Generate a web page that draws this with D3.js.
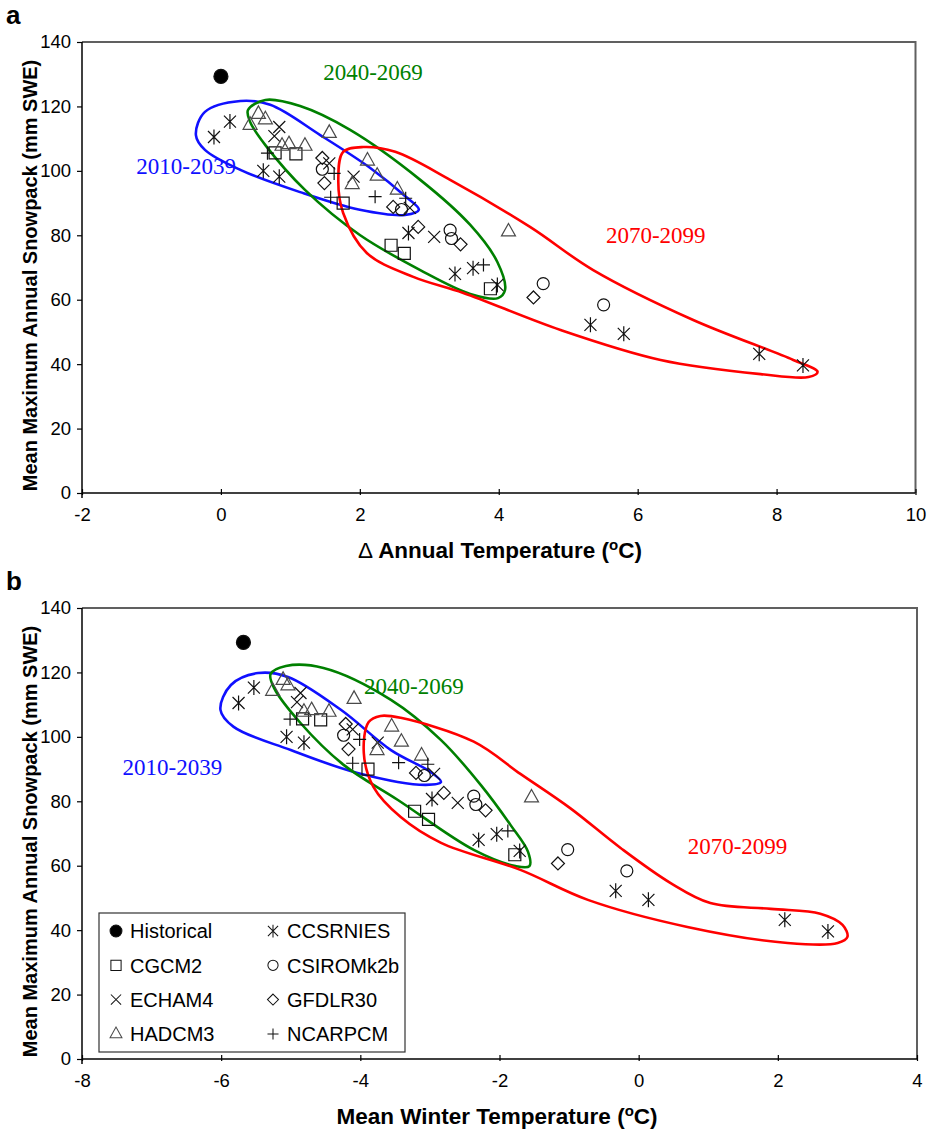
<!DOCTYPE html>
<html><head><meta charset="utf-8">
<script src="https://cdn.jsdelivr.net/npm/d3@7"></script>
<style>body{margin:0;background:#fff}</style>
</head><body>
<svg id="chart" width="931" height="1129"></svg>
<script>
// Each row: [Δ annual temperature (°C), mean winter temperature (°C), max annual snowpack (mm SWE)]
const historical = [[0.00, -5.68, 129.3]];
const ccsrnies = [
  [-0.10, -5.75, 110.5], [0.13, -5.53, 115.3], [0.61, -5.06, 100.0], [0.84, -4.81, 98.2],
  [2.70, -2.97, 80.7], [3.37, -2.30, 68.0], [3.63, -2.04, 69.8], [3.98, -1.71, 64.6],
  [5.32, -0.33, 52.2], [5.80, 0.14, 49.4], [7.75, 2.10, 43.2], [8.38, 2.72, 39.6]
];
const cgcm2 = [
  [0.78, -4.83, 105.6], [1.08, -4.57, 105.3], [1.76, -3.89, 90.0],
  [2.45, -3.22, 76.9], [2.64, -3.02, 74.4], [3.88, -1.78, 63.4]
];
const echam4 = [
  [0.84, -4.86, 113.6], [0.77, -4.91, 110.8], [1.56, -4.11, 102.3],
  [1.91, -3.75, 98.2], [2.72, -2.94, 88.5], [3.07, -2.60, 79.5]
];
const hadcm3 = [
  [0.54, -5.11, 117.7], [0.64, -5.04, 116.0], [0.42, -5.26, 114.3], [0.88, -4.81, 107.8],
  [0.98, -4.70, 108.3], [1.21, -4.45, 107.8], [1.56, -4.09, 111.8], [1.89, -3.76, 95.9],
  [2.11, -3.55, 103.2], [2.25, -3.41, 98.5], [2.54, -3.12, 94.2], [4.14, -1.54, 81.2]
];
const csiromk2b = [
  [1.46, -4.24, 100.5], [2.60, -3.08, 88.0], [3.30, -2.37, 81.6],
  [3.32, -2.34, 79.0], [4.64, -1.02, 65.0], [5.51, -0.17, 58.4]
];
const gfdlr30 = [
  [1.46, -4.21, 104.0], [1.49, -4.17, 96.2], [2.48, -3.20, 88.8],
  [2.84, -2.80, 82.6], [3.45, -2.20, 77.2], [4.50, -1.16, 60.7]
];
const ncarpcm = [
  [0.67, -5.01, 105.5], [1.63, -4.01, 99.2], [1.58, -4.11, 91.8],
  [2.22, -3.45, 92.0], [2.66, -3.03, 91.5], [3.78, -1.88, 70.8]
];

const periodNames = ["2010-2039", "2040-2069", "2070-2099"];
const yTicks = [0, 20, 40, 60, 80, 100, 120, 140];
const xTicksA = [-2, 0, 2, 4, 6, 8, 10];
const xTicksB = [-8, -6, -4, -2, 0, 2, 4];

// Period envelopes, [temperature, snowpack] outline points
const loopA2010 = [[-0.36,111.1],[-0.23,118.3],[0.28,121.7],[0.71,120.5],[1.43,111.1],[2.15,100.9],[2.65,92.2],[2.85,87.9],[2.65,86.3],[2.0,87.9],[1.14,93.4],[0.28,100.3],[-0.23,106.5]];
const loopA2040 = [[0.39,118.9],[0.64,122.0],[1.14,120.1],[1.86,112.7],[2.87,97.2],[3.59,83.2],[3.98,71.7],[4.09,63.0],[3.99,60.5],[3.59,61.8],[2.87,69.2],[2.0,80.1],[1.21,94.1],[0.64,108.0],[0.42,115.2]];
const loopA2070 = [[1.76,105.9],[2.05,107.4],[2.51,105.9],[3.30,97.2],[4.45,82.6],[5.36,69.2],[6.80,53.7],[8.24,41.3],[8.59,37.6],[8.46,36.0],[7.77,36.9],[6.33,41.3],[4.89,50.6],[3.49,62.1],[2.77,67.1],[2.10,74.5],[1.76,86.9],[1.69,97.2]];
const loopB2010 = [[-6.01,108.4],[-5.86,116.1],[-5.47,119.8],[-5.04,118.6],[-4.28,108.4],[-3.56,95.9],[-2.99,89.1],[-2.84,86.0],[-3.06,85.1],[-4.04,88.8],[-5.0,95.9],[-5.82,103.1]];
const loopB2040 = [[-5.29,119.5],[-5.07,122.0],[-4.53,121.4],[-3.56,111.5],[-2.84,99.0],[-2.27,85.1],[-1.84,72.6],[-1.59,64.3],[-1.57,59.9],[-1.77,59.9],[-2.37,64.9],[-3.46,80.4],[-4.24,91.3],[-4.86,104.3],[-5.24,115.2]];
const loopB2070 = [[-3.88,104.6],[-3.71,106.5],[-3.42,105.9],[-2.37,98.5],[-1.70,88.5],[-0.98,77.8],[-0.26,65.5],[0.46,54.6],[1.03,48.4],[1.90,46.6],[2.61,45.1],[2.93,41.6],[3.0,37.9],[2.86,36.0],[2.14,36.0],[0.70,41.0],[-0.73,49.4],[-1.70,58.7],[-2.84,67.1],[-3.42,75.1],[-3.81,84.4],[-3.95,95.0]];

const svg = d3.select("#chart");
const sans = "'Liberation Sans', Arial, Helvetica, sans-serif";
const serif = "'Liberation Serif', 'Times New Roman', serif";
const periodColors = ["#1010ff", "#008000", "#ff0000"];

function markerPath(shape) {
  switch (shape) {
    case "dot": return "M7,0A7,7 0 1,1 -7,0A7,7 0 1,1 7,0Z";
    case "circle": return "M6,0A6,6 0 1,1 -6,0A6,6 0 1,1 6,0Z";
    case "square": return "M-6,-6H6V6H-6Z";
    case "diamond": return "M0,-6.5L6.5,0L0,6.5L-6.5,0Z";
    case "x": return "M-6,-6L6,6M-6,6L6,-6";
    case "asterisk": return "M-6,-6L6,6M-6,6L6,-6M0,-7.5V7.5";
    case "plus": return "M-6.5,0H6.5M0,-6.5V6.5";
    case "triangle": return "M0,-8L7,4.5L-7,4.5Z";
  }
}

const series = [
  {name: "CCSRNIES", rows: ccsrnies, shape: "asterisk"},
  {name: "CGCM2", rows: cgcm2, shape: "square"},
  {name: "CSIROMk2b", rows: csiromk2b, shape: "circle"},
  {name: "ECHAM4", rows: echam4, shape: "x"},
  {name: "GFDLR30", rows: gfdlr30, shape: "diamond"},
  {name: "HADCM3", rows: hadcm3, shape: "triangle"},
  {name: "NCARPCM", rows: ncarpcm, shape: "plus"},
  {name: "Historical", rows: historical, shape: "dot"}
];

function drawPanel(opt) {
  const x = d3.scaleLinear().domain(opt.xDomain).range([opt.left, opt.right]);
  const y = d3.scaleLinear().domain([0, 140]).range([opt.bottom, opt.top]);
  const g = svg.append("g");

  // frame: grey top and right edges
  g.append("path")
    .attr("d", `M${opt.left},${opt.top}H${opt.right}V${opt.bottom}`)
    .attr("fill", "none").attr("stroke", "#606060").attr("stroke-width", 2);

  // y axis
  const ya = g.append("g").attr("transform", `translate(${opt.left},0)`)
    .call(d3.axisLeft(y).tickValues(yTicks).tickSize(5).tickPadding(6).tickFormat(d3.format("d")));
  ya.select(".domain").attr("stroke", "#000").attr("stroke-width", 1.5)
    .attr("d", `M0,${opt.top}V${opt.bottom + 5}`);
  ya.selectAll(".tick line").attr("stroke", "#000").attr("stroke-width", 1.2);
  ya.selectAll("text").attr("font-family", sans).attr("font-size", 18.5).attr("fill", "#000");

  // x axis
  const xa = g.append("g").attr("transform", `translate(0,${opt.bottom})`)
    .call(d3.axisBottom(x).tickValues(opt.xTicks).tickSize(4).tickPadding(11).tickFormat(d3.format("d")));
  xa.select(".domain").attr("stroke", "#000").attr("stroke-width", 1.5)
    .attr("d", `M${opt.left},0H${opt.right}`);
  xa.selectAll(".tick line").attr("stroke", "#000").attr("stroke-width", 1.2).attr("y1", -4).attr("y2", 2);
  xa.selectAll("text").attr("font-family", sans).attr("font-size", 18.5).attr("fill", "#000")
    .text(d => d3.format("d")(d).replace("−", "-"));

  // titles
  g.append("text").attr("transform", `translate(37,${(opt.top + opt.bottom) / 2 + 8}) rotate(-90)`)
    .attr("text-anchor", "middle").attr("font-family", sans).attr("font-weight", "bold")
    .attr("font-size", 20).text("Mean Maximum Annual Snowpack (mm SWE)");
  const xt = g.append("text").attr("x", opt.titleX).attr("y", opt.bottom + 65)
    .attr("text-anchor", "middle").attr("font-family", sans).attr("font-weight", "bold")
    .attr("font-size", 22.5);
  if (opt.delta) xt.append("tspan").attr("font-weight", "normal").text("\u0394 ");
  xt.append("tspan").text(opt.titlePre);
  xt.append("tspan").attr("font-size", 15).attr("dy", -8).text("o");
  xt.append("tspan").attr("dy", 8).text("C)");

  g.append("text").attr("x", 6).attr("y", opt.top - 18).attr("font-family", sans)
    .attr("font-weight", "bold").attr("font-size", 26).text(opt.letter);

  // period envelopes
  const line = d3.line().x(d => x(d[0])).y(d => y(d[1])).curve(d3.curveCatmullRomClosed.alpha(0.5));
  opt.loops.forEach((lp, i) => {
    g.append("path").attr("d", line(lp)).attr("fill", "none")
      .attr("stroke", periodColors[i]).attr("stroke-width", 2.6);
  });

  // markers
  series.forEach(s => {
    g.selectAll(null).data(s.rows).join("path")
      .attr("transform", d => `translate(${x(d[opt.col])},${y(d[2])})`)
      .attr("d", markerPath(s.shape))
      .attr("fill", s.shape === "dot" ? "#000" : "none")
      .attr("stroke", s.shape === "triangle" ? "#4a4a4a" : "#111")
      .attr("stroke-width", 1.2);
  });

  // period labels
  opt.labels.forEach((p, i) => {
    g.append("text").attr("x", x(p[0])).attr("y", y(p[1])).attr("dy", "0.35em")
      .attr("text-anchor", "middle").attr("font-family", serif).attr("font-size", 23)
      .attr("fill", periodColors[i]).text(periodNames[i]);
  });
  return {x, y};
}

drawPanel({
  letter: "a", col: 0, xDomain: [-2, 10], xTicks: xTicksA,
  left: 82, right: 915.5, top: 42, bottom: 493, titleX: 500, delta: true,
  titlePre: "Annual Temperature (",
  loops: [loopA2010, loopA2040, loopA2070],
  labels: [[-0.50, 101.5], [2.19, 130.7], [6.26, 80.1]]
});

drawPanel({
  letter: "b", col: 1, xDomain: [-8, 4], xTicks: xTicksB,
  left: 82, right: 917, top: 608, bottom: 1059, titleX: 497, delta: false,
  titlePre: "Mean Winter Temperature (",
  loops: [loopB2010, loopB2040, loopB2070],
  labels: [[-6.70, 90.7], [-3.23, 115.8], [1.42, 66.1]]
});

// legend
const legend = svg.append("g");
legend.append("rect").attr("x", 99).attr("y", 913).attr("width", 306).attr("height", 139)
  .attr("fill", "#fff").attr("stroke", "#333").attr("stroke-width", 1.2);
const legendOrder = ["Historical", "CCSRNIES", "CGCM2", "CSIROMk2b", "ECHAM4", "GFDLR30", "HADCM3", "NCARPCM"];
legendOrder.forEach((name, i) => {
  const s = series.find(d => d.name === name);
  const col = i % 2, row = Math.floor(i / 2);
  const lx = col === 0 ? 116 : 273, ly = 931 + row * 34.3;
  legend.append("path").attr("transform", `translate(${lx},${ly}) scale(0.85)`)
    .attr("d", markerPath(s.shape))
    .attr("fill", s.shape === "dot" ? "#000" : "none")
    .attr("stroke", s.shape === "triangle" ? "#4a4a4a" : "#111").attr("stroke-width", 1.2);
  legend.append("text").attr("x", lx + 14).attr("y", ly).attr("dy", "0.36em")
    .attr("font-family", sans).attr("font-size", 20).text(name);
});
</script>
</body></html>
